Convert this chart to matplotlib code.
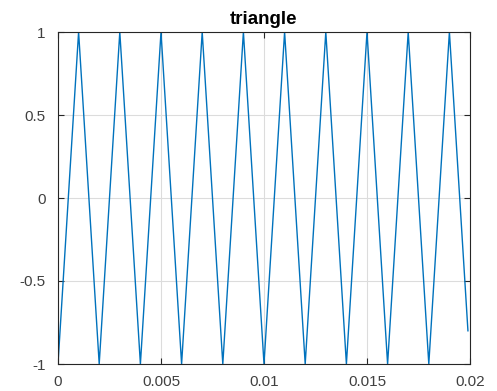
import matplotlib
matplotlib.use("Agg")
import matplotlib.pyplot as plt

# vertices of the triangle wave (time in s, amplitude)
t_vertices = [0, 0.001, 0.002, 0.003, 0.004, 0.005, 0.006, 0.007, 0.008, 0.009,
              0.010, 0.011, 0.012, 0.013, 0.014, 0.015, 0.016, 0.017, 0.018, 0.019, 0.0199]
y_vertices = [-1, 1, -1, 1, -1, 1, -1, 1, -1, 1,
              -1, 1, -1, 1, -1, 1, -1, 1, -1, 1, -0.8]

x_ticks = [0, 0.005, 0.01, 0.015, 0.02]
x_labels = ["0", "0.005", "0.01", "0.015", "0.02"]
y_ticks = [-1, -0.5, 0, 0.5, 1]
y_labels = ["-1", "-0.5", "0", "0.5", "1"]

plt.rcParams['font.family'] = ['Liberation Sans', 'DejaVu Sans']

fig = plt.figure(figsize=(4.97, 3.91), dpi=100)
ax = fig.add_axes([58/497, 27/391, 412/497, 332/391])
ax.plot(t_vertices, y_vertices, color='#0072BD', linewidth=1.0)
ax.set_xlim(0, 0.02)
ax.set_ylim(-1, 1)
ax.set_xticks(x_ticks)
ax.set_xticklabels(x_labels)
ax.set_yticks(y_ticks)
ax.set_yticklabels(y_labels)
ax.grid(True, color='#dcdcdc', linewidth=0.8)
ax.set_axisbelow(True)
ax.tick_params(direction='in', length=4, width=0.8, colors='#262626',
               labelsize=11, top=True, right=True, labelcolor='#404040')
ax.tick_params(axis='y', pad=9)
ax.tick_params(axis='x', pad=8)
for s in ax.spines.values():
    s.set_color('#262626')
    s.set_linewidth(0.8)
ax.set_title('triangle', fontsize=13.5, fontweight='bold', color='black', pad=6)
fig.savefig('out.png', dpi=100)
